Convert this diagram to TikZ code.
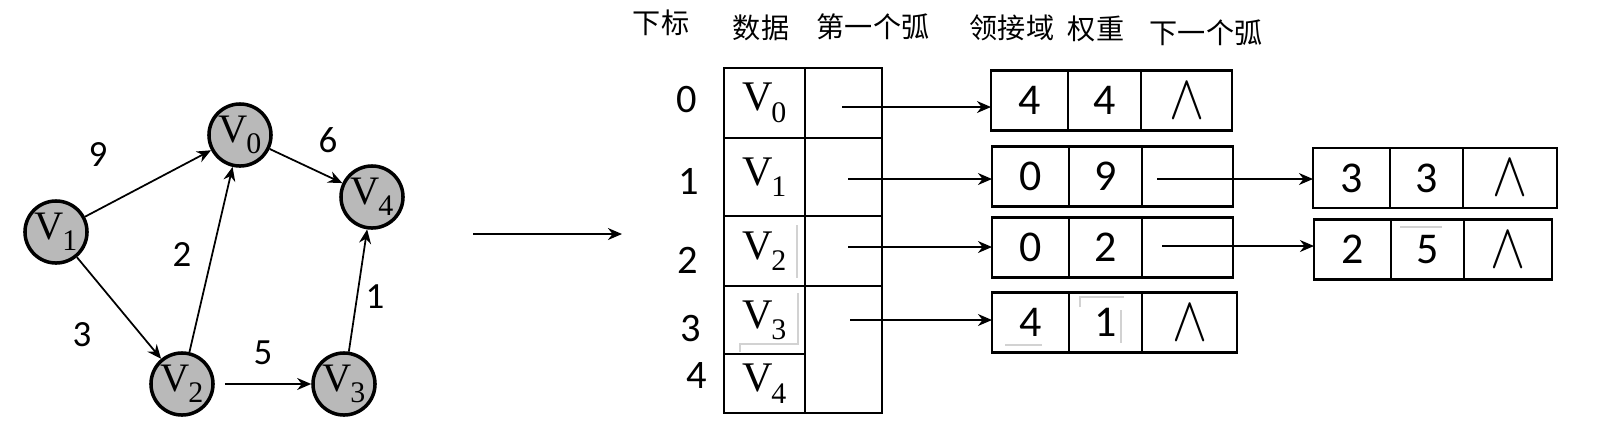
\documentclass[tikz,border=0pt]{standalone}
\usepackage{fontspec}
\setmainfont{Liberation Serif}
\newfontfamily\numfont{Carlito}
\newfontfamily\cjk{Noto Sans CJK SC}
\usetikzlibrary{positioning,arrows.meta}

\newcommand{\vsub}[1]{V\kern-.5pt\raisebox{-.6ex}{\fontsize{8.5}{9}\selectfont #1}}
\newcommand{\nil}{\scalebox{1.25}[1.5]{$\wedge$}}

\tikzset{
  vtx/.style={circle,draw,line width=1pt,fill=gray!55,minimum size=.62cm,inner sep=0pt,
    font=\fontsize{11.5}{12}\selectfont},
  arr/.style={line width=.5pt,-{Stealth[length=4pt,width=3.4pt]}},
  wt/.style={font=\numfont\fontsize{10.5}{11}\selectfont},
  idx/.style={font=\numfont\fontsize{11.5}{12}\selectfont},
  head/.style={font=\cjk\fontsize{8}{9}\selectfont},
  dcell/.style={draw,line width=.6pt,minimum width=.81cm,inner sep=0pt,outer sep=0pt,
    font=\fontsize{12}{13}\selectfont},
  acell/.style={draw,line width=.6pt,minimum width=.77cm,inner sep=0pt,outer sep=0pt},
  fa/.style={draw,line width=.6pt,minimum width=.77cm,minimum height=.6cm,inner sep=0pt,
    outer sep=0pt,font=\numfont\fontsize{12.5}{13}\selectfont},
  fb/.style={fa,minimum width=.73cm},
  fc/.style={fa,minimum width=.91cm},
  ghost/.style={draw=gray!35,line width=.5pt}
}

\begin{document}
\begin{tikzpicture}[x=.01cm,y=-.01cm]
\useasboundingbox (0,0) rectangle (1606,442);

% graph
\node[vtx] (v0) at (240,135) {\vsub{0}};
\node[vtx] (v1) at (56,232) {\vsub{1}};
\node[vtx] (v2) at (182,384) {\vsub{2}};
\node[vtx] (v3) at (344,384) {\vsub{3}};
\node[vtx] (v4) at (372,197) {\vsub{4}};

\draw[arr] (v1) -- (v0);
\draw[arr] (v1) -- (v2);
\draw[arr] (v2) -- (v0);
\draw[arr] (v0) -- (v4);
\draw[arr,shorten <=.1cm] (v2) -- (v3);
\draw[arr] (v3) -- (v4);

\node[wt] (w9) at (98,155) {9};
\node[wt] (w6) at (328,140) {6};
\node[wt] (w2) at (182,255) {2};
\node[wt] (w3) at (82,335) {3};
\node[wt] (w5) at (263,353) {5};
\node[wt] (w1) at (375,297) {1};

\coordinate (s0) at (473,234);
\coordinate (s1) at (622,234);
\draw[arr] (s0) -- (s1);

% headers
\node[head] (h1) at (661,23) {下标};
\node[head] (h2) at (761,28) {数据};
\node[head] (h3) at (873,27) {第一个弧};
\node[head] (h4) at (1012,28) {领接域};
\node[head] (h5) at (1096,29) {权重};
\node[head] (h6) at (1206,33) {下一个弧};

% vertex table
\node[dcell,minimum height=.70cm,anchor=north west] (d0) at (724,68) {\vsub{0}};
\node[dcell,minimum height=.78cm,below=0pt of d0] (d1) {\vsub{1}};
\node[dcell,minimum height=.70cm,below=0pt of d1] (d2) {\vsub{2}};
\node[dcell,minimum height=.68cm,below=0pt of d2] (d3) {\vsub{3}};
\node[dcell,minimum height=.59cm,below=0pt of d3] (d4) {\vsub{4}};

\node[acell,minimum height=.70cm,right=0pt of d0] (a0) {};
\node[acell,minimum height=.78cm,right=0pt of d1] (a1) {};
\node[acell,minimum height=.70cm,right=0pt of d2] (a2) {};
\node[acell,minimum height=1.27cm,anchor=north west] (a3) at (d3.north east) {};

\node[idx] (i0) at (687,100) {0};
\node[idx] (i1) at (689,181) {1};
\node[idx] (i2) at (688,260) {2};
\node[idx] (i3) at (691,329) {3};
\node[idx] (i4) at (697,376) {4};

% arc nodes
\node[fa,anchor=west] (b0a) at (991,100.5) {4};
\node[fb,right=0pt of b0a] (b0b) {4};
\node[fc,right=0pt of b0b] (b0c) {\nil};

\node[fa,anchor=west] (b1a) at (992,176.5) {0};
\node[fb,right=0pt of b1a] (b1b) {9};
\node[fc,right=0pt of b1b] (b1c) {};

\node[fa,anchor=west] (b2a) at (992,247.5) {0};
\node[fb,right=0pt of b2a] (b2b) {2};
\node[fc,right=0pt of b2b] (b2c) {};

\node[fa,anchor=west] (b3a) at (992,322.5) {4};
\node[fb,right=0pt of b3a] (b3b) {1};
\node[fc,right=0pt of b3b,minimum width=.95cm] (b3c) {\nil};

\node[fa,anchor=west] (c1a) at (1313,178) {3};
\node[fb,right=0pt of c1a] (c1b) {3};
\node[fc,right=0pt of c1b,minimum width=.94cm] (c1c) {\nil};

\node[fa,anchor=west] (c2a) at (1314,249.5) {2};
\node[fb,right=0pt of c2a] (c2b) {5};
\node[fc,right=0pt of c2b,minimum width=.88cm] (c2c) {\nil};

\coordinate (p0) at (842,107);
\coordinate (p1) at (848,179);
\coordinate (p2) at (848,247);
\coordinate (p3) at (850,320);
\coordinate (q1) at (1157,179);
\coordinate (q2) at (1162,246);

\draw[arr] (p0) -- (p0 -| b0a.west);
\draw[arr] (p1) -- (p1 -| b1a.west);
\draw[arr] (p2) -- (p2 -| b2a.west);
\draw[arr] (p3) -- (p3 -| b3a.west);
\draw[arr] (q1) -- (q1 -| c1a.west);
\draw[arr] (q2) -- (q2 -| c2a.west);

% leftover marks
\draw[ghost] (797,225) -- (797,278);
\draw[ghost] (740,352) -- (740,344) -- (798,344) -- (798,293);
\draw[ghost] (1005,345) -- (1042,345);
\draw[ghost] (1080,307) -- (1080,297) -- (1124,297);
\draw[ghost] (1121,310) -- (1121,343);
\draw[ghost] (1400,227) -- (1442,227);

\end{tikzpicture}
\end{document}
